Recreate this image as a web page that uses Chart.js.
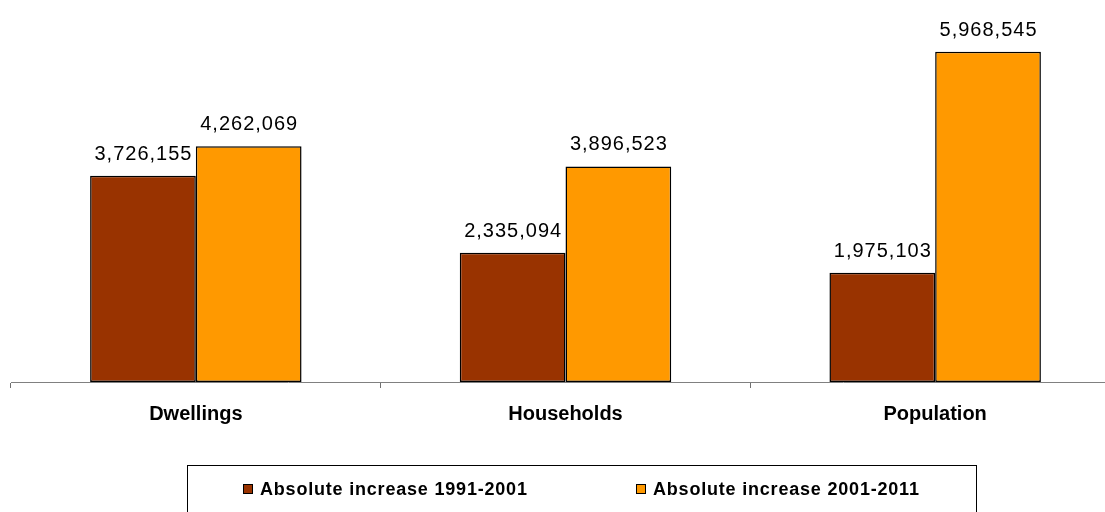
<!DOCTYPE html>
<html>
<head>
<meta charset="utf-8">
<script src="https://cdn.jsdelivr.net/npm/chart.js@4/dist/chart.umd.min.js"></script>
<style>
  html, body { margin: 0; padding: 0; background: #fff; overflow: hidden; }
  #wrap { position: relative; width: 1105px; height: 512px; overflow: hidden; }
  #box { position: absolute; left: 0; top: 0; width: 1130px; height: 512px; }
  #legend {
    position: absolute; left: 187px; top: 465px; width: 790px; height: 60px;
    border: 1px solid #000; box-sizing: border-box;
    font: bold 18px "Liberation Sans", Arial, sans-serif; letter-spacing: 0.8px; color: #000;
  }
  #legend .item { position: absolute; top: 13px; white-space: nowrap; }
  #legend .sw { display: inline-block; width: 8px; height: 8px; border: 1px solid #000; margin-right: 7px; vertical-align: 1px; }
</style>
</head>
<body>
<div id="wrap">
  <div id="box"><canvas id="chart" width="1130" height="512"></canvas></div>
  <div id="legend"></div>
</div>
<script>
  "use strict";

  const categories = ["Dwellings", "Households", "Population"];
  const seriesNames = ["Absolute increase 1991-2001", "Absolute increase 2001-2011"];
  const increase1991 = [3726155, 2335094, 1975103];
  const increase2001 = [4262069, 3896523, 5968545];
  const seriesColors = ["#993300", "#FF9900"];

  const fmt = (v) => v.toLocaleString("en-US");

  const barLabels = {
    id: "barLabels",
    afterDatasetsDraw(chart) {
      const ctx = chart.ctx;
      ctx.save();
      ctx.font = '20px "Liberation Sans", Arial, sans-serif';
      ctx.letterSpacing = "1px";
      ctx.fillStyle = "#000";
      ctx.textAlign = "center";
      ctx.textBaseline = "alphabetic";
      chart.data.datasets.forEach((ds, i) => {
        chart.getDatasetMeta(i).data.forEach((bar, j) => {
          ctx.fillText(fmt(ds.data[j]), bar.x + 0.5, bar.y - 16);
        });
      });
      ctx.restore();
    },
  };

  new Chart(document.getElementById("chart"), {
    type: "bar",
    data: {
      labels: categories,
      datasets: [
        { label: seriesNames[0], data: increase1991, backgroundColor: seriesColors[0] },
        { label: seriesNames[1], data: increase2001, backgroundColor: seriesColors[1] },
      ],
    },
    options: {
      responsive: false,
      animation: false,
      layout: { padding: { left: 11, right: 10, top: 50, bottom: 72 } },
      datasets: {
        bar: {
          borderColor: "#000",
          borderWidth: 1.5,
          borderSkipped: false,
          categoryPercentage: 0.572,
          barPercentage: 1,
        },
      },
      plugins: {
        legend: { display: false },
        tooltip: { enabled: false },
      },
      scales: {
        x: {
          grid: {
            offset: true,
            drawOnChartArea: false,
            color: "#707070",
            tickLength: 6,
          },
          border: { color: "#808080", width: 1 },
          ticks: {
            color: "#000",
            padding: 14,
            font: { family: '"Liberation Sans", Arial, sans-serif', size: 20, weight: "bold" },
          },
        },
        y: {
          display: false,
          min: 0,
          max: 6000000,
        },
      },
    },
    plugins: [barLabels],
  });

  const legend = document.getElementById("legend");
  const lefts = [55, 448];
  seriesNames.forEach((name, i) => {
    const item = document.createElement("div");
    item.className = "item";
    item.style.left = lefts[i] + "px";
    const sw = document.createElement("span");
    sw.className = "sw";
    sw.style.background = seriesColors[i];
    item.appendChild(sw);
    item.appendChild(document.createTextNode(name));
    legend.appendChild(item);
  });
</script>
</body>
</html>
